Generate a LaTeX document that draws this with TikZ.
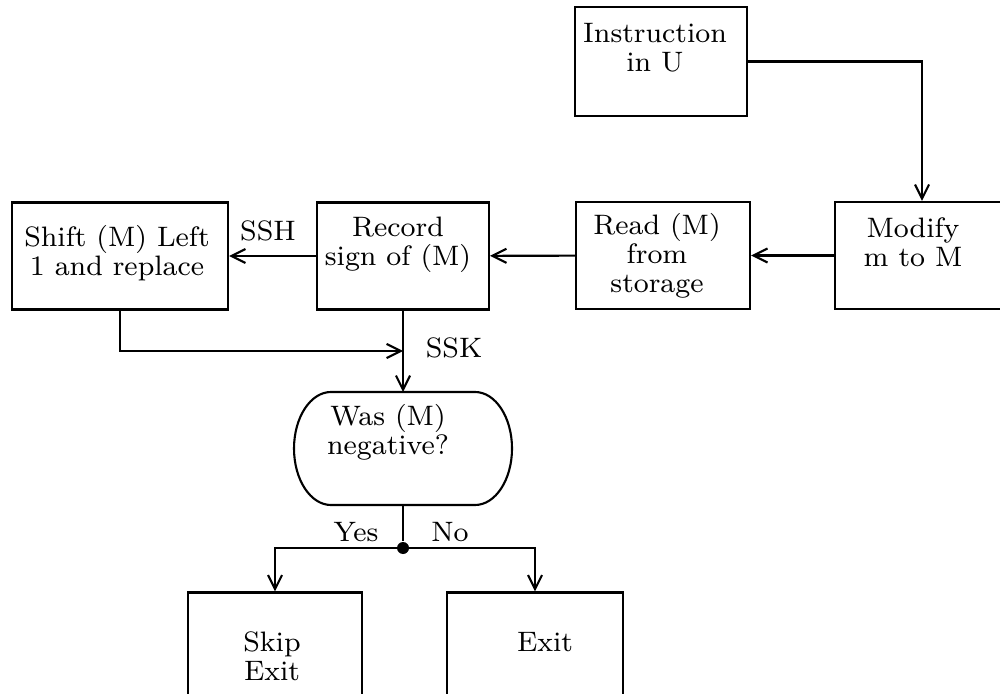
\documentclass[tikz,border=0pt]{standalone}
\usepackage{fontspec}
\usetikzlibrary{arrows.meta}
\tikzset{
  box/.style={draw, line width=0.6pt, minimum width=1.74cm, minimum height=1.07cm, inner sep=0pt},
  txt/.style={align=center, inner sep=0pt, font=\fontsize{8}{8.2}\selectfont\addfontfeatures{LetterSpace=9}},
  flow/.style={line width=0.6pt, -{Straight Barb[length=4pt,width=4pt]}},
}
\begin{document}
\begin{tikzpicture}
\useasboundingbox (0,0) rectangle (10,6.93);
\clip (0,0) rectangle (10,6.93);
\node[box, minimum width=1.72cm, minimum height=1.09cm] (instr) at (6.61,6.315) {};
\node[box] (mod) at (9.22,4.375) {};
\node[box] (read) at (6.63,4.375) {};
\node[box, minimum width=1.72cm] (rec) at (4.03,4.37) {};
\node[box, minimum width=2.16cm] (shift) at (1.20,4.37) {};
\node[minimum width=1.44cm, minimum height=1.13cm, inner sep=0pt, outer sep=0pt] (was) at (4.03,2.445) {};
\draw[line width=0.6pt] (was.north west) -- (was.north east)
  arc[start angle=90, end angle=-90, x radius=0.37cm, y radius=0.565cm]
  -- (was.south west)
  arc[start angle=270, end angle=90, x radius=0.37cm, y radius=0.565cm] -- cycle;
\node[box] (skip) at (2.75,0.47) {};
\node[box, minimum width=1.76cm] (exit) at (5.35,0.47) {};
\node[txt] (instrtxt) at (6.55,6.455) {Instruction\\in U};
\node[txt] (modtxt) at (9.13,4.505) {Modify\\m to M};
\node[txt] (readtxt) at (6.57,4.37) {Read (M)\\from\\storage};
\node[txt] (rectxt) at (3.98,4.485) {Record\\sign of (M)};
\node[txt] (shifttxt) at (1.17,4.40) {Shift (M) Left\\1 and replace};
\node[txt] (wastxt) at (3.88,2.61) {Was (M)\\negative?};
\node[txt] (skiptxt) at (2.72,0.365) {Skip\\Exit};
\node[txt] (exittxt) at (5.45,0.51) {Exit};
\node[txt] (ssh) at (2.68,4.62) {SSH};
\node[txt] (ssk) at (4.54,3.45) {SSK};
\node[txt] (yes) at (3.56,1.61) {Yes};
\node[txt] (no) at (4.50,1.61) {No};
\coordinate (merge) at (4.03,3.42);
\node[circle, fill, inner sep=0pt, minimum size=0.12cm] (fork) at (4.03,1.45) {};
\draw[flow] (instr.east) -| (mod.north);
\draw[flow] (mod) -- (read);
\draw[flow] (read) -- (rec);
\draw[flow] (rec) -- (shift);
\draw[flow] (shift.south) |- (merge);
\draw[flow] (rec.south) -- (was.north);
\draw[line width=0.6pt] (was.south) -- (fork);
\draw[flow] (fork.center) -| (skip.north);
\draw[flow] (fork.center) -| (exit.north);
\end{tikzpicture}
\end{document}
